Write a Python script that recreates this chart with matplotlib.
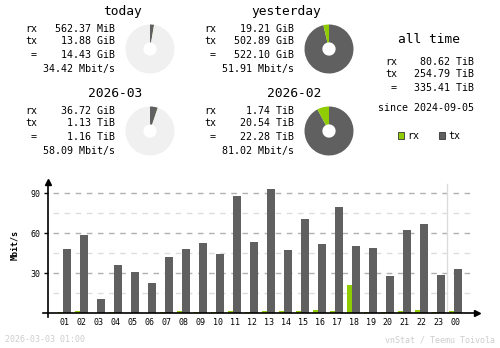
import matplotlib
matplotlib.use('Agg')
import matplotlib.pyplot as plt
from matplotlib.patches import Patch

# hourly average rates, Mbit/s
hours = ['01', '02', '03', '04', '05', '06', '07', '08', '09', '10', '11', '12',
         '13', '14', '15', '16', '17', '18', '19', '20', '21', '22', '23', '00']
rx_rate = [1.2, 2.0, 0.4, 1.2, 0.3, 0.3, 1.2, 2.0, 1.2, 1.2, 2.0, 1.2,
           2.0, 2.0, 2.0, 2.8, 2.0, 21.2, 1.2, 1.2, 2.0, 2.8, 1.2, 2.0]
tx_rate = [48.2, 58.7, 10.7, 36.2, 31.0, 22.7, 42.2, 48.2, 52.7, 44.5, 88.0, 53.5,
           93.2, 47.5, 70.7, 52.0, 79.7, 50.5, 49.0, 28.0, 62.5, 67.0, 28.7, 33.2]

# summary blocks
periods = ['today', 'yesterday', '2026-03', '2026-02']
period_rx = ['562.37 MiB', '19.21 GiB', '36.72 GiB', '1.74 TiB']
period_tx = ['13.88 GiB', '502.89 GiB', '1.13 TiB', '20.54 TiB']
period_total = ['14.43 GiB', '522.10 GiB', '1.16 TiB', '22.28 TiB']
period_rate = ['34.42 Mbit/s', '51.91 Mbit/s', '58.09 Mbit/s', '81.02 Mbit/s']

alltime_rx = '80.62 TiB'
alltime_tx = '254.79 TiB'
alltime_total = '335.41 TiB'
since = '2024-09-05'
timestamp = '2026-03-03 01:00'

RX = '#8fcc00'
TX = '#606060'
BG = '#f0f0f0'
FOOT = '#cdcdcd'
MONO = 'DejaVu Sans Mono'

W, H = 500, 348


def fx(x):
    return x / W


def fy(y):
    return 1 - y / H


def to_gib(s):
    val, unit = s.split()
    return float(val) * {'MiB': 1 / 1024, 'GiB': 1, 'TiB': 1024}[unit]


fig = plt.figure(figsize=(5, 3.48), dpi=100)
fig.patch.set_facecolor('white')

small = 7.2
# (x offset, y offset) for each block, and previous period for partial pies
offsets = [(0, 0), (179, 0), (0, 82), (179, 82)]
reference = [1, None, 3, None]

for i, name in enumerate(periods):
    dx, dy = offsets[i]
    fig.text(fx(142 + dx), fy(11.7 + dy), name, ha='right', va='center',
             family=MONO, fontsize=9.3)
    rows = [('rx', period_rx[i]), ('tx', period_tx[i]), ('=', period_total[i])]
    for (lab, val), y in zip(rows, [29.3, 41.3, 54.7]):
        fig.text(fx(37 + dx), fy(y + dy), lab, ha='right', va='center',
                 family=MONO, fontsize=small)
        fig.text(fx(115 + dx), fy(y + dy), val, ha='right', va='center',
                 family=MONO, fontsize=small)
    fig.text(fx(115 + dx), fy(69.3 + dy), period_rate[i], ha='right', va='center',
             family=MONO, fontsize=small)

    # ring chart
    r = 24.5
    cx, cy = 150 + dx, 49 + dy
    pax = fig.add_axes([fx(cx - r), fy(cy + r), 2 * r / W, 2 * r / H])
    rx = to_gib(period_rx[i])
    tx = to_gib(period_tx[i])
    sizes = [tx, rx]
    colors = [TX, RX]
    if reference[i] is not None:
        rest = to_gib(period_total[reference[i]]) - rx - tx
        sizes.append(max(rest, 0))
        colors.append(BG)
    pax.pie(sizes, colors=colors, startangle=90, counterclock=False,
            wedgeprops=dict(width=0.73, linewidth=0))
    pax.set_xlim(-1, 1)
    pax.set_ylim(-1, 1)
    pax.axis('off')

# all time block
fig.text(fx(429), fy(39.3), 'all time', ha='center', va='center',
         family=MONO, fontsize=9.3)
for lab, val, y in [('rx', alltime_rx, 62), ('tx', alltime_tx, 73.7),
                    ('=', alltime_total, 88)]:
    fig.text(fx(397), fy(y), lab, ha='right', va='center', family=MONO, fontsize=small)
    fig.text(fx(474), fy(y), val, ha='right', va='center', family=MONO, fontsize=small)
fig.text(fx(474), fy(108), 'since ' + since, ha='right', va='center',
         family=MONO, fontsize=small)

fig.legend(handles=[Patch(facecolor=RX, edgecolor='#333333', linewidth=0.6, label='rx'),
                    Patch(facecolor=TX, edgecolor='#333333', linewidth=0.6, label='tx')],
           loc='center', bbox_to_anchor=(fx(429), fy(136)), ncol=2, frameon=False,
           prop=dict(family=MONO, size=small), handlelength=0.6, handleheight=0.6,
           handletextpad=0.3, columnspacing=2.0)

# hourly bar chart
x0, x1 = 48, 477
ybase, ytop = 313.3, 181.7
ax = fig.add_axes([fx(x0), fy(ybase), (x1 - x0) / W, (ybase - ytop) / H])
slot = 17.0
centre = 64.5
ax.set_xlim((x0 - centre) / slot, (x1 - centre) / slot)
ax.set_ylim(0, (ybase - ytop) / (40 / 30))

idx = list(range(len(hours)))
ax.bar([i - 4 / slot for i in idx], rx_rate, width=5 / slot, color=RX, zorder=3)
ax.bar([i + 2.5 / slot for i in idx], tx_rate, width=8 / slot, color=TX, zorder=3)

gx0 = (53 - x0) / (x1 - x0)
gx1 = (473 - x0) / (x1 - x0)
for v in [15, 45, 75]:
    ax.axhline(v, gx0, gx1, color='#dddddd', lw=1, ls=(0, (4, 4)), zorder=1)
for v in [30, 60, 90]:
    ax.axhline(v, gx0, gx1, color='#b0b0b0', lw=1, ls=(0, (4, 4)), zorder=1)

# current hour marker
ax.axvline(22.5, 0, (ybase - 184) / (ybase - ytop), color='#dcdcdc', lw=1, zorder=2)

for s in ax.spines.values():
    s.set_visible(False)
ytr = ax.get_yaxis_transform()
xtr = ax.get_xaxis_transform()
ax.plot([-5 / (x1 - x0), 1.0], [0, 0], transform=ytr, color='black', lw=1.2,
        clip_on=False, zorder=4)
ax.plot([1.0], [0], transform=ytr, marker='>', color='black', ms=4, clip_on=False, zorder=4)
ax.plot([(x0 - centre) / slot] * 2, [-3.4 / (ybase - ytop), 1.0], transform=xtr,
        color='black', lw=1.2, clip_on=False, zorder=4)
ax.plot([(x0 - centre) / slot], [1.0], transform=xtr, marker='^', color='black', ms=4,
        clip_on=False, zorder=4)

ax.set_yticks([30, 60, 90])
ax.set_yticklabels(['30', '60', '90'], family=MONO, fontsize=6)
ax.tick_params(axis='y', length=3, width=1, pad=2.2, direction='out')
ax.set_xticks(idx)
ax.set_xticklabels(hours, family=MONO, fontsize=6)
ax.tick_params(axis='x', length=0, pad=3.5)
ax.set_facecolor('none')

fig.text(fx(15), fy(245), 'Mbit/s', rotation=90, ha='center', va='center',
         family=MONO, fontsize=6, fontweight='bold')

fig.text(fx(5), fy(340), timestamp, ha='left', va='center', family=MONO,
         fontsize=6, color=FOOT)
fig.text(fx(495), fy(340), 'vnStat / Teemu Toivola', ha='right', va='center',
         family=MONO, fontsize=6, color=FOOT)

fig.savefig('out.png', dpi=100)
